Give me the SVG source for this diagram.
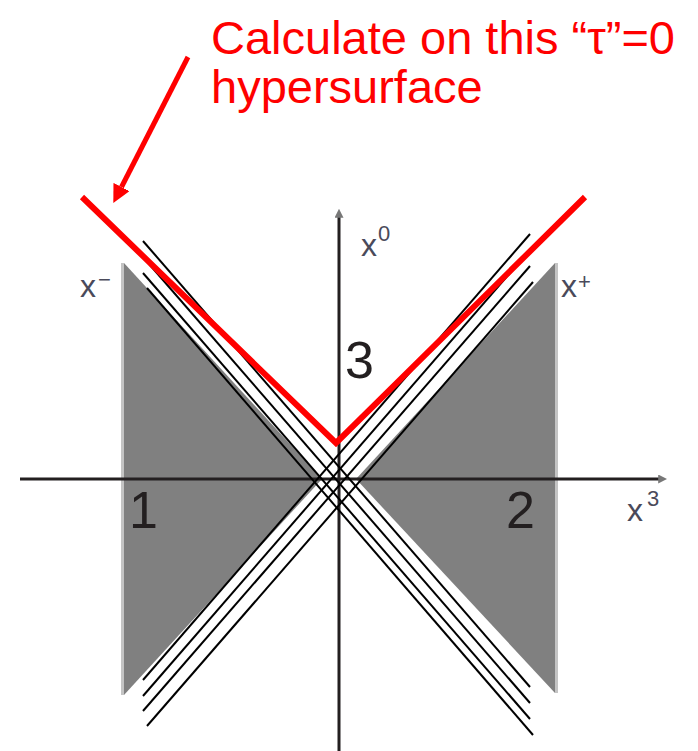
<svg xmlns="http://www.w3.org/2000/svg" width="698" height="751" viewBox="0 0 698 751">
  <style>
    .title { font-family: "Liberation Sans", Arial, sans-serif; font-size: 47px; fill: #ff0000; }
    .num { font-family: "Liberation Sans", Arial, sans-serif; font-size: 52px; fill: #231f20; }
    .ax { font-family: "Liberation Sans", Arial, sans-serif; font-size: 32px; fill: #4a4a5a; }
    .sup { font-family: "Liberation Sans", Arial, sans-serif; font-size: 22px; fill: #4a4a5a; }
    .axis { stroke: #231f20; stroke-width: 3; fill: none; }
    .hl { stroke: #000000; stroke-width: 2; fill: none; }
    .region { fill: #808080; }
    .edge { fill: #c4c4c4; }
    .red { stroke: #ff0000; fill: none; }
  </style>
  <defs>
    <marker id="redhead" markerUnits="userSpaceOnUse" viewBox="0 0 18 18" refX="0" refY="9" markerWidth="18" markerHeight="18" orient="auto">
      <path d="M0,0 L18,9 L0,18 z" fill="#ff0000"/>
    </marker>
    <marker id="axhead" markerUnits="userSpaceOnUse" viewBox="0 0 10 10" refX="2" refY="5" markerWidth="9" markerHeight="9" orient="auto">
      <path d="M0,0 L10,5 L0,10 z" fill="#777777"/>
    </marker>
  </defs>

  <g id="region-1">
    <polygon class="region" points="124,263 322,479 124,695"/>
    <rect class="edge" x="121" y="263" width="3" height="432"/>
  </g>
  <g id="region-2">
    <polygon class="region" points="555,263 356,479 555,693"/>
    <rect class="edge" x="555" y="263" width="3" height="430"/>
  </g>

  <g id="axes">
    <line class="axis" x1="20" y1="479" x2="660" y2="479" marker-end="url(#axhead)"/>
    <line class="axis" x1="339" y1="751" x2="339" y2="216" marker-end="url(#axhead)"/>
  </g>

  <g id="lines">
    <line class="hl" x1="143" y1="241" x2="530" y2="687"/>
    <line class="hl" x1="143" y1="257" x2="530" y2="703"/>
    <line class="hl" x1="143" y1="273" x2="530" y2="719"/>
    <line class="hl" x1="147" y1="288" x2="533" y2="735"/>
    <line class="hl" x1="143" y1="680" x2="530" y2="234"/>
    <line class="hl" x1="143" y1="696" x2="530" y2="250"/>
    <line class="hl" x1="143" y1="711" x2="530" y2="266"/>
    <line class="hl" x1="147" y1="726" x2="533" y2="282"/>
  </g>

  <g id="hypersurface">
    <polyline class="red" stroke-width="6" stroke-linejoin="miter" points="82,197 336,443 585,197"/>
  </g>

  <g id="callout">
    <line class="red" stroke-width="5" x1="188" y1="57" x2="121.5" y2="187" marker-end="url(#redhead)"/>
    <text class="title" x="211" y="54">Calculate on this “τ”=0</text>
    <text class="title" x="211" y="103">hypersurface</text>
  </g>

  <g id="labels">
    <text class="num" x="345" y="378">3</text>
    <text class="num" x="129" y="528">1</text>
    <text class="num" x="506" y="528">2</text>
    <text class="ax" x="361" y="256">x</text>
    <text class="sup" x="378" y="241">0</text>
    <text class="ax" x="80" y="297">x</text>
    <text class="sup" x="98" y="287">−</text>
    <text class="ax" x="561" y="297">x</text>
    <text class="sup" x="578" y="289">+</text>
    <text class="ax" x="627" y="521">x</text>
    <text class="sup" x="647" y="506">3</text>
  </g>
</svg>
